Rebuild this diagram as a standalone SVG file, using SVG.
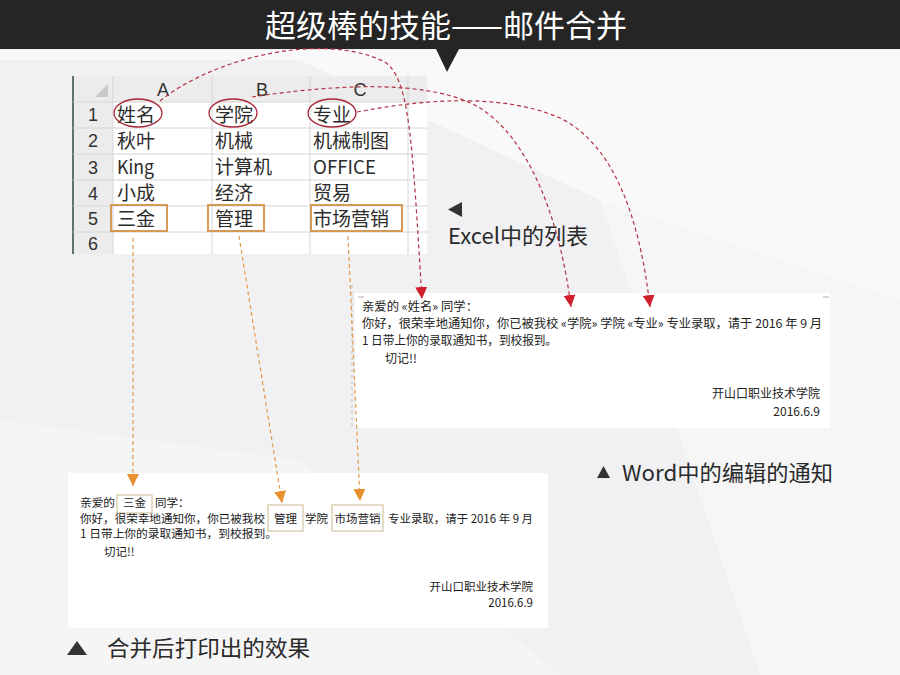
<svg xmlns="http://www.w3.org/2000/svg" width="900" height="675" viewBox="0 0 900 675">
<defs>
<style>
.cjk{font-family:"Noto Sans CJK SC","Liberation Sans",sans-serif;}
.cell{font-family:"Noto Sans CJK SC","Liberation Sans",sans-serif;font-size:19px;fill:#2b2b2b;}
.hdr{font-family:"Liberation Sans","Noto Sans CJK SC",sans-serif;font-size:18px;fill:#333;text-anchor:middle;}
.grid{stroke:#d6d6d6;stroke-width:1;}
.doc{font-family:"Noto Sans CJK SC","Liberation Sans",sans-serif;font-size:12px;fill:#222;}
.prn{font-family:"Noto Sans CJK SC","Liberation Serif",serif;font-size:11.5px;fill:#1a1a1a;}
.cap{font-family:"Noto Sans CJK SC","Liberation Sans",sans-serif;font-size:22px;fill:#2a2a2a;}
.red{fill:none;stroke:#b23042;stroke-width:1.2;stroke-dasharray:4 3;}
.org{fill:none;stroke:#e29a4b;stroke-width:1.2;stroke-dasharray:4 3;}
.ring{fill:none;stroke:#a8283a;stroke-width:1.3;}
.obox{fill:none;stroke:#d59a55;stroke-width:2;}
.pbox{fill:none;stroke:#c9b98d;stroke-width:1;}
</style>
<marker id="ahR" viewBox="0 0 10 10" refX="10" refY="5" markerWidth="12" markerHeight="12" markerUnits="userSpaceOnUse" orient="auto">
<path d="M0,0 L10,5 L0,10 z" fill="#cf1f2c"/>
</marker>
<marker id="ahO" viewBox="0 0 10 10" refX="10" refY="5" markerWidth="12" markerHeight="12" markerUnits="userSpaceOnUse" orient="auto">
<path d="M0,0 L10,5 L0,10 z" fill="#e8902e"/>
</marker>
</defs>

<!-- background -->
<rect width="900" height="675" fill="#f1f1f3"/>
<polygon points="0,50 900,50 900,300 600,200 300,60 0,60" fill="#ffffff" opacity="0.6"/>
<polygon points="600,200 900,300 900,675 760,675" fill="#ffffff" opacity="0.35"/>
<polygon points="0,420 300,460 560,675 0,675" fill="#ffffff" opacity="0.3"/>

<!-- title -->
<g id="title">
<rect x="0" y="0" width="900" height="49" fill="#252525"/>
<polygon points="436,49 459,49 447,72" fill="#252525"/>
<text x="446" y="37" text-anchor="middle" class="cjk" font-size="31" fill="#ffffff">超级棒的技能——邮件合并</text>
</g>

<!-- excel table -->
<g id="excel">
<rect x="73" y="76" width="354" height="178" fill="#ffffff"/>
<rect x="73" y="76" width="354" height="26" fill="#ececec"/>
<rect x="73" y="76" width="40" height="178" fill="#ececec"/>
<polygon points="108,84 108,97 95,97" fill="#c9c9c9"/>
<line x1="73" y1="76" x2="73" y2="254" stroke="#2f4a3a" stroke-width="1.5"/>
<g class="grid">
<line x1="113" y1="76" x2="113" y2="254"/>
<line x1="212" y1="76" x2="212" y2="254"/>
<line x1="310" y1="76" x2="310" y2="254"/>
<line x1="408" y1="76" x2="408" y2="254"/>
<line x1="73" y1="102" x2="427" y2="102"/>
<line x1="73" y1="128" x2="427" y2="128"/>
<line x1="73" y1="154" x2="427" y2="154"/>
<line x1="73" y1="180" x2="427" y2="180"/>
<line x1="73" y1="206" x2="427" y2="206"/>
<line x1="73" y1="232" x2="427" y2="232"/>
</g>
<text class="hdr" x="163" y="96">A</text>
<text class="hdr" x="262" y="96">B</text>
<text class="hdr" x="360" y="96">C</text>
<text class="hdr" x="93" y="121">1</text>
<text class="hdr" x="93" y="147">2</text>
<text class="hdr" x="93" y="174">3</text>
<text class="hdr" x="93" y="200">4</text>
<text class="hdr" x="93" y="225">5</text>
<text class="hdr" x="93" y="250">6</text>
<text class="cell" x="117" y="122">姓名</text>
<text class="cell" x="215" y="122">学院</text>
<text class="cell" x="313" y="122">专业</text>
<text class="cell" x="117" y="148">秋叶</text>
<text class="cell" x="215" y="148">机械</text>
<text class="cell" x="313" y="148">机械制图</text>
<text class="cell" x="117" y="174" textLength="37" lengthAdjust="spacingAndGlyphs">King</text>
<text class="cell" x="215" y="174">计算机</text>
<text class="cell" x="313" y="174" textLength="63" lengthAdjust="spacingAndGlyphs">OFFICE</text>
<text class="cell" x="117" y="200">小成</text>
<text class="cell" x="215" y="200">经济</text>
<text class="cell" x="313" y="200">贸易</text>
<text class="cell" x="117" y="226">三金</text>
<text class="cell" x="215" y="226">管理</text>
<text class="cell" x="313" y="226">市场营销</text>
<ellipse class="ring" cx="138" cy="113" rx="24" ry="14"/>
<ellipse class="ring" cx="233" cy="113" rx="24" ry="14"/>
<ellipse class="ring" cx="332" cy="113" rx="24" ry="14"/>
<rect class="obox" x="111" y="205" width="56" height="26"/>
<rect class="obox" x="208" y="205" width="56" height="26"/>
<rect class="obox" x="311" y="205" width="91" height="26"/>
</g>

<!-- word template panel -->
<g id="word-doc">
<rect x="355" y="293" width="475" height="135" fill="#ffffff"/>
<line x1="352" y1="285" x2="352" y2="428" stroke="#b8b8b8" stroke-width="0.8" stroke-dasharray="3 3"/>
<path d="M358,297 h6 M823,297 h6" stroke="#999" stroke-width="0.8"/>
<text class="doc" x="362" y="311" textLength="116" lengthAdjust="spacingAndGlyphs">亲爱的 «姓名» 同学：</text>
<text class="doc" x="362" y="328" textLength="460" lengthAdjust="spacingAndGlyphs">你好，很荣幸地通知你，你已被我校 «学院» 学院 «专业» 专业录取，请于 2016 年 9 月</text>
<text class="doc" x="362" y="345" textLength="195" lengthAdjust="spacingAndGlyphs">1 日带上你的录取通知书，到校报到。</text>
<text class="doc" x="385" y="363">切记!!</text>
<text class="doc" x="820" y="398" text-anchor="end">开山口职业技术学院</text>
<text class="doc" x="820" y="416" text-anchor="end">2016.6.9</text>
</g>

<!-- merged print panel -->
<g id="merged-doc">
<rect x="68" y="473" width="480" height="155" fill="#ffffff"/>
<text class="prn" x="80" y="507" textLength="35" lengthAdjust="spacingAndGlyphs">亲爱的</text>
<rect class="pbox" x="117" y="495" width="35" height="18"/>
<text class="prn" x="134.5" y="507" text-anchor="middle">三金</text>
<text class="prn" x="155" y="507">同学：</text>
<text class="prn" x="80" y="523" textLength="185" lengthAdjust="spacingAndGlyphs">你好，很荣幸地通知你，你已被我校</text>
<rect class="pbox" x="268" y="505" width="35" height="26"/>
<text class="prn" x="285.5" y="523" text-anchor="middle">管理</text>
<text class="prn" x="305" y="523" textLength="23" lengthAdjust="spacingAndGlyphs">学院</text>
<rect class="pbox" x="332" y="505" width="51" height="26"/>
<text class="prn" x="357.5" y="523" text-anchor="middle">市场营销</text>
<text class="prn" x="388" y="523" textLength="145" lengthAdjust="spacingAndGlyphs">专业录取，请于 2016 年 9 月</text>
<text class="prn" x="80" y="538" textLength="197" lengthAdjust="spacingAndGlyphs">1 日带上你的录取通知书，到校报到。</text>
<text class="prn" x="104" y="556">切记!!</text>
<text class="prn" x="533" y="591" text-anchor="end">开山口职业技术学院</text>
<text class="prn" x="533" y="607" text-anchor="end">2016.6.9</text>
</g>

<!-- captions -->
<g id="cap-excel">
<polygon points="462,202 462,217 448,209.5" fill="#333"/>
<text class="cap" x="448" y="244" font-size="19.5">Excel中的列表</text>
</g>
<g id="cap-word">
<polygon points="597,478 610,478 603.5,466" fill="#333"/>
<text class="cap" x="622" y="481" textLength="211" lengthAdjust="spacingAndGlyphs">Word中的编辑的通知</text>
</g>
<g id="cap-merge">
<polygon points="67,655 87,655 77,641" fill="#333"/>
<text class="cap" x="107" y="656" textLength="203" lengthAdjust="spacingAndGlyphs">合并后打印出的效果</text>
</g>

<!-- connectors -->
<g id="connectors">
<path class="red" d="M160,101 C210,60 320,30 385,62 C410,80 412,140 422,299" marker-end="url(#ahR)"/>
<path class="red" d="M252,97 C330,85 430,78 480,108 C530,140 560,220 571,307" marker-end="url(#ahR)"/>
<path class="red" d="M357,112 C420,100 500,92 560,118 C615,145 640,220 650,307" marker-end="url(#ahR)"/>
<path class="org" d="M133,238 L133,486" marker-end="url(#ahO)"/>
<path class="org" d="M239,236 L282,503" marker-end="url(#ahO)"/>
<path class="org" d="M348,236 L360,501" marker-end="url(#ahO)"/>
</g>
</svg>
